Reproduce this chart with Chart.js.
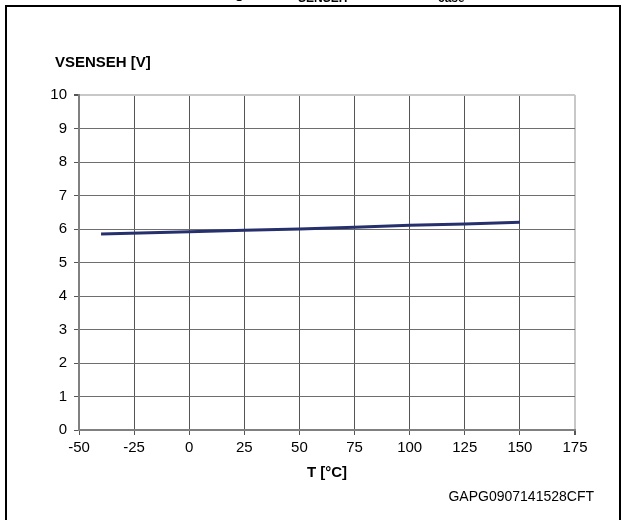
<!DOCTYPE html>
<html>
<head>
<meta charset="utf-8">
<script src="https://cdn.jsdelivr.net/npm/chart.js@4/dist/chart.umd.min.js"></script>
<style>
html,body{margin:0;padding:0;background:#fff;}
#wrap{width:625px;height:520px;position:relative;}
</style>
</head>
<body>
<div id="wrap"><canvas id="c" width="625" height="520"></canvas></div>
<script>
// Data
const temperatures = [-40, 0, 25, 50, 75, 100, 125, 150];
const vsenseh = [5.85, 5.92, 5.96, 6.0, 6.05, 6.11, 6.15, 6.2];
const xTicks = [-50, -25, 0, 25, 50, 75, 100, 125, 150, 175];
const yTicks = [0, 1, 2, 3, 4, 5, 6, 7, 8, 9, 10];
const yAxisLabel = 'VSENSEH [V]';
const xAxisLabel = 'T [°C]';
const figureCode = 'GAPG0907141528CFT';

const FONT = '"Liberation Sans", Arial, sans-serif';

const decor = {
  id: 'decor',
  beforeDraw(chart) {
    const c = chart.ctx;
    c.save();
    c.fillStyle = '#fff';
    c.fillRect(0, 0, chart.width, chart.height);
    c.restore();
  },
  afterDraw(chart) {
    const c = chart.ctx;
    const a = chart.chartArea;
    c.save();
    // frame
    c.strokeStyle = '#000';
    c.lineWidth = 2;
    c.beginPath();
    c.moveTo(6, 530); c.lineTo(6, 6); c.lineTo(620, 6); c.lineTo(620, 530);
    c.stroke();
    // clipped figure title at top
    c.fillStyle = '#000';
    c.textBaseline = 'alphabetic';
    c.font = 'bold 15px ' + FONT;
    c.textAlign = 'right';
    c.fillText('Figure 9. V', 298, -2);
    c.fillText('vs. T', 438, -2);
    c.textAlign = 'left';
    c.font = 'bold 12px ' + FONT;
    c.fillText('SENSEH', 298, 2);
    c.fillText('case', 438, 2);
    // y axis label
    c.font = 'bold 15px ' + FONT;
    c.textAlign = 'left';
    c.textBaseline = 'middle';
    c.fillText(yAxisLabel, 55, 63);
    // x axis label
    c.textAlign = 'center';
    c.fillText(xAxisLabel, (a.left + a.right) / 2, 473);
    // figure code
    c.font = '14px ' + FONT;
    c.textAlign = 'right';
    c.fillText(figureCode, 594, 497);
    c.restore();
  }
};

new Chart(document.getElementById('c'), {
  type: 'line',
  data: {
    datasets: [{
      data: temperatures.map((t, i) => ({ x: t, y: vsenseh[i] })),
      borderColor: '#26306c',
      borderWidth: 3,
      pointRadius: 0,
      tension: 0,
      fill: false
    }]
  },
  options: {
    responsive: false,
    animation: false,
    events: [],
    layout: { padding: { top: 95, right: 50, bottom: 0, left: 0 } },
    plugins: { legend: { display: false }, tooltip: { enabled: false }, title: { display: false } },
    scales: {
      x: {
        type: 'linear',
        min: -50, max: 175,
        afterFit(s) { s.height = 90; },
        afterBuildTicks(s) { s.ticks = xTicks.map(v => ({ value: v })); },
        ticks: {
          autoSkip: false, maxRotation: 0, minRotation: 0,
          color: '#000', padding: 4,
          font: { family: FONT, size: 15 }
        },
        grid: {
          color: ctx => (ctx.tick && ctx.tick.value === 175) ? '#c8c8c8' : '#555',
          lineWidth: ctx => (ctx.tick && ctx.tick.value === 175) ? 2 : 1,
          tickColor: '#555',
          tickLength: 5,
          drawTicks: true
        },
        border: { color: '#808080', width: 2 }
      },
      y: {
        min: 0, max: 10,
        afterFit(s) { s.width = 79; },
        afterBuildTicks(s) { s.ticks = yTicks.map(v => ({ value: v })); },
        ticks: {
          color: '#000', padding: 7,
          font: { family: FONT, size: 15 }
        },
        grid: {
          color: ctx => (ctx.tick && ctx.tick.value === 10) ? '#c8c8c8' : '#6e6e6e',
          lineWidth: ctx => (ctx.tick && ctx.tick.value === 10) ? 2 : 1,
          tickColor: '#555',
          tickLength: 5,
          drawTicks: true
        },
        border: { color: '#808080', width: 2 }
      }
    }
  },
  plugins: [decor]
});
</script>
</body>
</html>
